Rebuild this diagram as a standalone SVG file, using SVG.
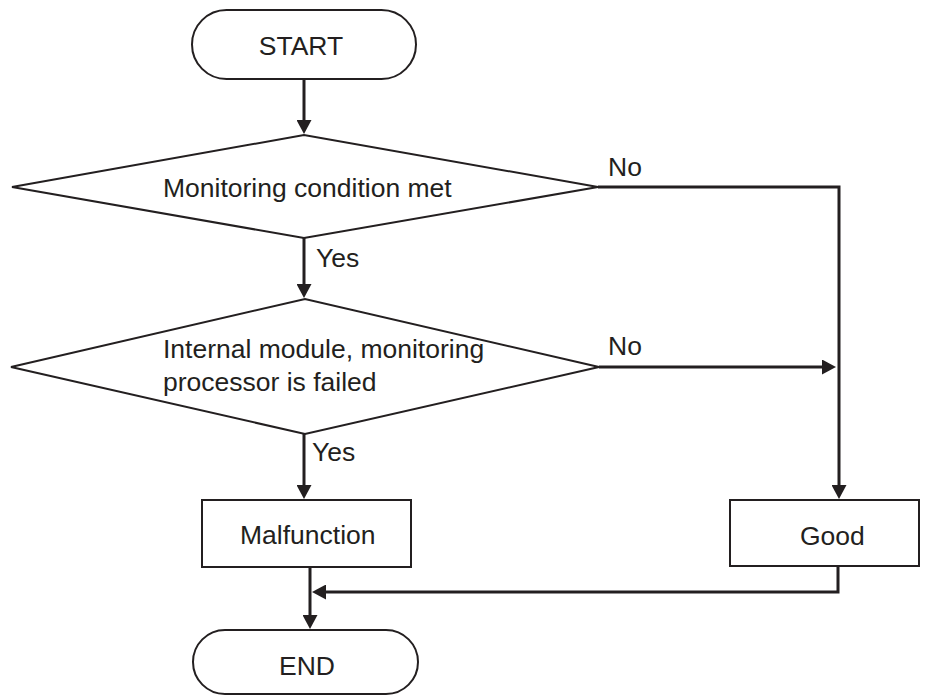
<svg xmlns="http://www.w3.org/2000/svg" width="928" height="696" viewBox="0 0 928 696">
  <style>
    .shape { fill: #ffffff; stroke: #231f20; stroke-width: 2; }
    .conn { fill: none; stroke: #231f20; stroke-width: 3; }
    .label { font-family: "Liberation Sans", Arial, sans-serif; font-size: 26.5px; fill: #231f20; }
    .mid { text-anchor: middle; }
  </style>
  <defs>
    <marker id="arrow" markerUnits="userSpaceOnUse" markerWidth="14" markerHeight="15" refX="4" refY="7.5" orient="auto">
      <path d="M0,0 L14,7.5 L0,15 Z" fill="#231f20"/>
    </marker>
  </defs>

  <rect width="928" height="696" fill="#ffffff"/>

  <!-- connectors -->
  <g id="connectors">
    <path class="conn" d="M304,79 V124" marker-end="url(#arrow)"/>
    <path class="conn" d="M304,238 V288" marker-end="url(#arrow)"/>
    <path class="conn" d="M304,434 V489" marker-end="url(#arrow)"/>
    <path class="conn" d="M598,187 H839 V489" marker-end="url(#arrow)"/>
    <path class="conn" d="M599,367 H826" marker-end="url(#arrow)"/>
    <path class="conn" d="M838,566 V592 H322" marker-end="url(#arrow)"/>
    <path class="conn" d="M310,567 V619" marker-end="url(#arrow)"/>
    <text class="label" x="316" y="267">Yes</text>
    <text class="label" x="312" y="461">Yes</text>
    <text class="label" x="608" y="176">No</text>
    <text class="label" x="608" y="355">No</text>
  </g>

  <g id="start">
    <rect class="shape" x="192" y="10" width="224" height="69" rx="34.5" ry="34.5"/>
    <text class="label mid" x="301" y="55">START</text>
  </g>

  <g id="check-condition">
    <polygon class="shape" points="12,187 304,135 598,187 304,238"/>
    <text class="label" x="163" y="197">Monitoring condition met</text>
  </g>

  <g id="check-module">
    <polygon class="shape" points="11,367 305,299 599,367 305,434"/>
    <text class="label" x="163" y="358">Internal module, monitoring</text>
    <text class="label" x="163" y="391">processor is failed</text>
  </g>

  <g id="malfunction">
    <rect class="shape" x="202" y="500" width="209" height="67"/>
    <text class="label" x="240" y="544">Malfunction</text>
  </g>

  <g id="good">
    <rect class="shape" x="730" y="500" width="189" height="66"/>
    <text class="label" x="800" y="545">Good</text>
  </g>

  <g id="end">
    <rect class="shape" x="193" y="630" width="225" height="64" rx="32" ry="32"/>
    <text class="label mid" x="307" y="675">END</text>
  </g>
</svg>
